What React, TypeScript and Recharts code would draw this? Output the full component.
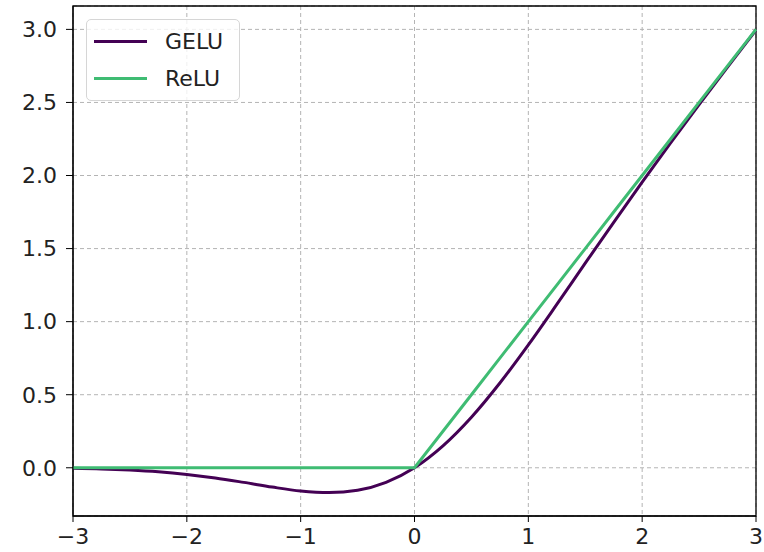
import { LineChart, Line, XAxis, YAxis, CartesianGrid, Legend, ReferenceArea } from 'recharts';

const xs = [-3, -2.75, -2.5, -2.25, -2, -1.75, -1.5, -1.25, -1, -0.75, -0.5, -0.25, 0, 0.25, 0.5, 0.75, 1, 1.25, 1.5, 1.75, 2, 2.25, 2.5, 2.75, 3];
const gelu = [-0.004, -0.008, -0.016, -0.028, -0.046, -0.07, -0.1, -0.132, -0.159, -0.17, -0.154, -0.1, 0, 0.15, 0.346, 0.58, 0.841, 1.118, 1.4, 1.68, 1.955, 2.223, 2.485, 2.742, 2.996];
const relu = [0, 0, 0, 0, 0, 0, 0, 0, 0, 0, 0, 0, 0, 0.25, 0.5, 0.75, 1, 1.25, 1.5, 1.75, 2, 2.25, 2.5, 2.75, 3];
const xTicks = [-3, -2, -1, 0, 1, 2, 3];
const yTicks = [0, 0.5, 1, 1.5, 2, 2.5, 3];

const data = xs.map((x, i) => ({ x, gelu: gelu[i], relu: relu[i] }));
const font = 'DejaVu Sans, sans-serif';
const fmtX = (v: number) => (v < 0 ? '\u2212' + Math.abs(v) : String(v));

function LegendBox({ payload }: any) {
  return (
    <div style={{ boxSizing: 'border-box', border: '1px solid #d6d6d6', borderRadius: 5, background: 'rgba(255,255,255,0.8)', padding: '3px 0 3px 7px', fontFamily: font, fontSize: 22, color: '#222', width: 154 }}>
      {(payload || []).map((p: any) => (
        <div key={p.value} style={{ display: 'flex', alignItems: 'center', height: 37 }}>
          <span style={{ display: 'inline-block', width: 53, height: 3, background: p.color, marginRight: 18 }} />
          {p.value}
        </div>
      ))}
    </div>
  );
}

export default function App() {
  return (
    <div style={{ position: 'absolute', left: 0, top: 0, background: '#fff' }}>
      <LineChart width={764} height={552} data={data} margin={{ top: 6, right: 8, left: 0, bottom: 0 }}>
        <CartesianGrid stroke="#b4b4b4" strokeDasharray="4 3" />
        <XAxis dataKey="x" type="number" domain={[-3, 3]} ticks={xTicks} tickFormatter={fmtX} height={36}
          tick={{ fontSize: 22, fill: '#222', fontFamily: font }} tickSize={6} tickMargin={6}
          stroke="#000" interval={0} />
        <YAxis type="number" domain={[-0.33, 3.16]} ticks={yTicks} tickFormatter={(v: number) => v.toFixed(1)} width={73}
          tick={{ fontSize: 22, fill: '#222', fontFamily: font }} tickSize={7} tickMargin={9}
          stroke="#000" interval={0} allowDataOverflow />
        <Line type="monotone" dataKey="gelu" name="GELU" stroke="#440154" strokeWidth={3} dot={false} isAnimationActive={false} />
        <Line type="linear" dataKey="relu" name="ReLU" stroke="#3fbc73" strokeWidth={3} dot={false} isAnimationActive={false} />
        <ReferenceArea x1={-3} x2={3} y1={-0.33} y2={3.16} fill="none" stroke="#000" strokeWidth={1.3} ifOverflow="visible" />
        <Legend content={<LegendBox />} layout="vertical" verticalAlign="middle" align="center"
          wrapperStyle={{ left: 86, top: 19, width: 'auto', height: 'auto' }} />
      </LineChart>
    </div>
  );
}
